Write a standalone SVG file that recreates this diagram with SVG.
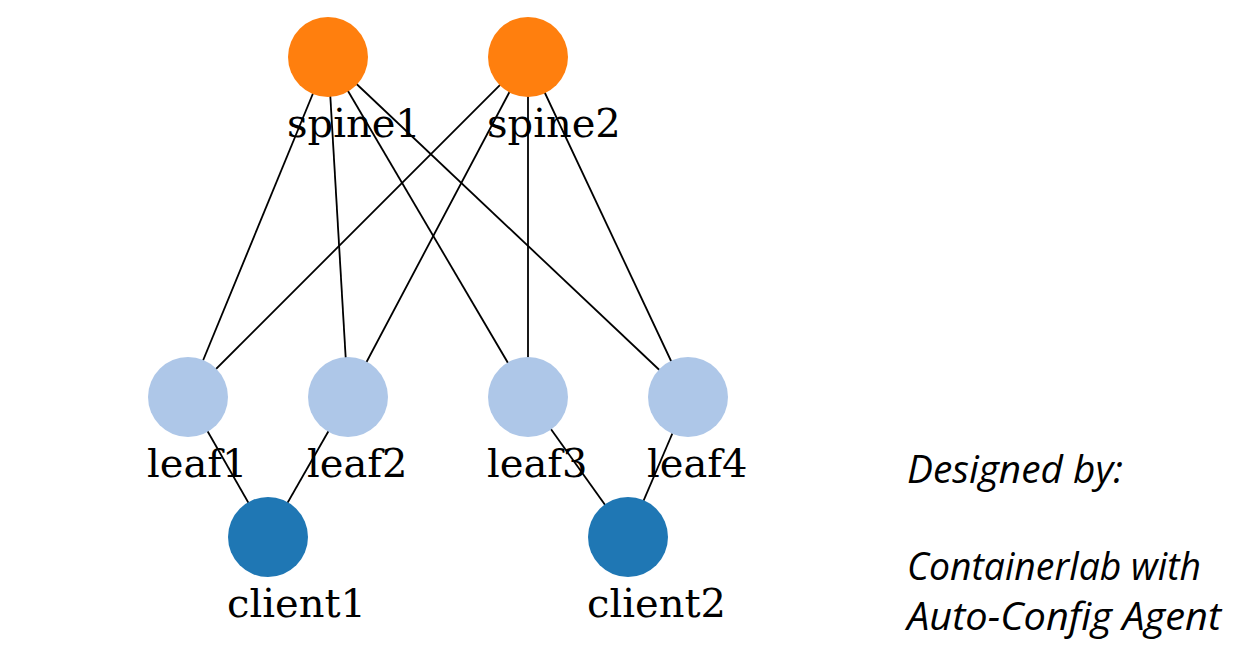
<svg xmlns="http://www.w3.org/2000/svg" width="1247" height="670" viewBox="0 0 1247 670">
<style>
.edge{stroke:#000;stroke-width:1.8;fill:none}
.spine{fill:#ff7f0e}
.leaf{fill:#aec7e8}
.client{fill:#1f77b4}
.lbl{font-family:"DejaVu Serif",serif;font-size:40px;fill:#000}
.note{font-family:"Open Sans","Noto Sans",sans-serif;font-style:italic;font-size:38px;fill:#000}
</style>
<rect width="1247" height="670" fill="#fff"/>
<g id="connectors">
<line class="edge" x1="328" y1="57" x2="188" y2="397"/>
<line class="edge" x1="328" y1="57" x2="348" y2="397"/>
<line class="edge" x1="328" y1="57" x2="528" y2="397"/>
<line class="edge" x1="328" y1="57" x2="688" y2="397"/>
<line class="edge" x1="528" y1="57" x2="188" y2="397"/>
<line class="edge" x1="528" y1="57" x2="348" y2="397"/>
<line class="edge" x1="528" y1="57" x2="528" y2="397"/>
<line class="edge" x1="528" y1="57" x2="688" y2="397"/>
<line class="edge" x1="188" y1="397" x2="268" y2="537"/>
<line class="edge" x1="348" y1="397" x2="268" y2="537"/>
<line class="edge" x1="528" y1="397" x2="628" y2="537"/>
<line class="edge" x1="688" y1="397" x2="628" y2="537"/>
</g>
<g id="spine1"><circle class="spine" cx="328" cy="57" r="40"/><text class="lbl" x="287" y="137">spine1</text></g>
<g id="spine2"><circle class="spine" cx="528" cy="57" r="40"/><text class="lbl" x="487" y="137">spine2</text></g>
<g id="leaf1"><circle class="leaf" cx="188" cy="397" r="40"/><text class="lbl" x="147" y="477">leaf1</text></g>
<g id="leaf2"><circle class="leaf" cx="348" cy="397" r="40"/><text class="lbl" x="307" y="477">leaf2</text></g>
<g id="leaf3"><circle class="leaf" cx="528" cy="397" r="40"/><text class="lbl" x="487" y="477">leaf3</text></g>
<g id="leaf4"><circle class="leaf" cx="688" cy="397" r="40"/><text class="lbl" x="647" y="477">leaf4</text></g>
<g id="client1"><circle class="client" cx="268" cy="537" r="40"/><text class="lbl" x="227" y="617">client1</text></g>
<g id="client2"><circle class="client" cx="628" cy="537" r="40"/><text class="lbl" x="587" y="617">client2</text></g>
<g id="note">
<text class="note" x="907" y="483" textLength="216" lengthAdjust="spacingAndGlyphs">Designed by:</text>
<text class="note" x="907" y="580" textLength="294" lengthAdjust="spacingAndGlyphs">Containerlab with</text>
<text class="note" x="907" y="630" textLength="314" lengthAdjust="spacingAndGlyphs">Auto-Config Agent</text>
</g>
</svg>
